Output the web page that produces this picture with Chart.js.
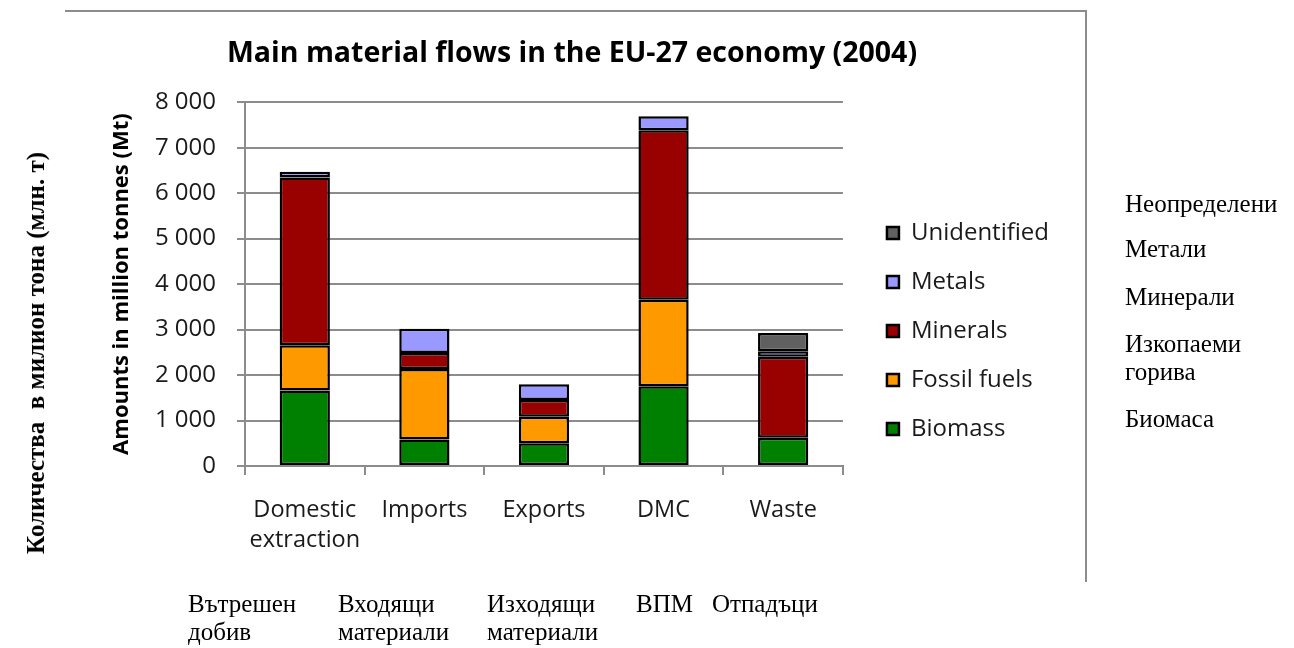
<!DOCTYPE html>
<html>
<head>
<meta charset="utf-8">
<title>Material flows EU-27</title>
<script src="https://cdn.jsdelivr.net/npm/chart.js@4.4.1/dist/chart.umd.min.js"></script>
<style>
  body { margin: 0; background: #fff; }
  #hoja { position: relative; width: 1294px; height: 648px; overflow: hidden; background: #fff; }
  #grafica { position: absolute; left: 0; top: 0; }
  .linea { position: absolute; background: #8c8c8c; }
  .bg { position: absolute; font-family: 'Liberation Serif', 'Times New Roman', serif; font-size: 25px; line-height: 28px; color: #000; white-space: nowrap; }
  #ejeBg { left: 36px; top: 353px; font-weight: bold; font-size: 25px; transform: translate(-50%, -50%) rotate(-90deg); }
</style>
</head>
<body>
<div id="hoja">
  <canvas id="grafica" width="1294" height="648"></canvas>

  <div class="linea" style="left:65px; top:10px; width:1022px; height:2px;"></div>
  <div class="linea" style="left:1085px; top:10px; width:2px; height:572px;"></div>

  <div class="bg" id="ejeBg">Количества&nbsp; в милион тона (млн. т)</div>

  <div class="bg" style="left:1125px; top:190px;">Неопределени</div>
  <div class="bg" style="left:1125px; top:235px;">Метали</div>
  <div class="bg" style="left:1125px; top:283px;">Минерали</div>
  <div class="bg" style="left:1125px; top:330px;">Изкопаеми<br>горива</div>
  <div class="bg" style="left:1125px; top:405px;">Биомаса</div>

  <div class="bg" style="left:188px; top:590px;">Вътрешен<br>добив</div>
  <div class="bg" style="left:338px; top:590px;">Входящи<br>материали</div>
  <div class="bg" style="left:487px; top:590px;">Изходящи<br>материали</div>
  <div class="bg" style="left:636px; top:590px;">ВПМ</div>
  <div class="bg" style="left:712px; top:590px;">Отпадъци</div>
</div>

<script>
// Categorías del eje X (la primera va en dos líneas)
const etiquetas = [['Domestic', 'extraction'], 'Imports', 'Exports', 'DMC', 'Waste'];

// Millones de toneladas por tipo de material
const biomasa = [1660, 585, 500, 1755, 620];
const combustibles = [995, 1550, 585, 1900, null];
const minerales = [3690, 350, 365, 3730, 1780];
const metales = [125, 535, 345, 305, 125];
const sinIdentificar = [null, null, null, null, 400];

// Marcas del eje Y
const marcasY = [0, 1000, 2000, 3000, 4000, 5000, 6000, 7000, 8000];

Chart.defaults.font.family = "'Open Sans', sans-serif";

function serie(nombre, datos, color) {
    return {
        label: nombre,
        data: datos,
        backgroundColor: color,
        borderColor: '#000',
        borderWidth: 2.5,
        borderSkipped: false,
        barPercentage: 0.42,
        categoryPercentage: 1,
    };
}

// separa miles con espacio: 8000 -> "8 000"
function miles(v) {
    return String(v).replace(/\B(?=(\d{3})+(?!\d))/g, ' ');
}

// la leyenda se separa un poco del área y se alinea con el alto del eje Y
const huecoLeyenda = {
    id: 'huecoLeyenda',
    afterLayout(chart) {
        const ley = chart.legend;
        const area = chart.chartArea;
        ley.left += 19;
        ley.right += 19;
        ley.top = area.top;
        ley.bottom = area.bottom;
        ley.height = area.bottom - area.top;
    }
};

const gris = '#8c8c8c';

new Chart(document.querySelector('#grafica'), {
    type: 'bar',
    data: {
        labels: etiquetas,
        datasets: [
            serie('Biomass', biomasa, '#008000'),
            serie('Fossil fuels', combustibles, '#ff9900'),
            serie('Minerals', minerales, '#990000'),
            serie('Metals', metales, '#9999ff'),
            serie('Unidentified', sinIdentificar, '#606060'),
        ]
    },
    options: {
        responsive: false,
        animation: false,
        layout: { padding: { left: 104, right: 254, top: 0, bottom: 0 } },
        plugins: {
            title: {
                display: true,
                text: 'Main material flows in the EU-27 economy (2004)',
                color: '#000',
                font: { size: 28.5, weight: 'bold' },
                padding: { top: 37, bottom: 31 },
            },
            legend: {
                position: 'right',
                align: 'end',
                reverse: true,
                labels: {
                    boxWidth: 12,
                    boxHeight: 12,
                    padding: 25,
                    color: '#1a1a1a',
                    font: { size: 24 },
                }
            },
            tooltip: { enabled: false },
        },
        scales: {
            x: {
                stacked: true,
                afterFit: (s) => { s.height = 182; },
                grid: { drawOnChartArea: false, tickLength: 9, color: gris, lineWidth: 2 },
                border: { color: gris, width: 2 },
                ticks: { color: '#1a1a1a', font: { size: 23.5, lineHeight: 1.25 }, padding: 21, maxRotation: 0 },
            },
            y: {
                stacked: true,
                min: marcasY[0],
                max: marcasY[marcasY.length - 1],
                afterFit: (s) => { s.width = 141; },
                afterBuildTicks: (s) => { s.ticks = marcasY.map(v => ({ value: v })); },
                grid: { color: gris, lineWidth: 2, tickLength: 8 },
                border: { color: gris, width: 2 },
                ticks: { color: '#1a1a1a', font: { size: 24 }, padding: 21, callback: (v) => miles(v) },
                title: {
                    display: true,
                    text: 'Amounts in million tonnes (Mt)',
                    color: '#000',
                    font: { size: 22, weight: 'bold', lineHeight: 1 },
                    padding: { top: 7, bottom: 0 },
                },
            },
        },
    },
    plugins: [huecoLeyenda],
});
</script>
</body>
</html>
